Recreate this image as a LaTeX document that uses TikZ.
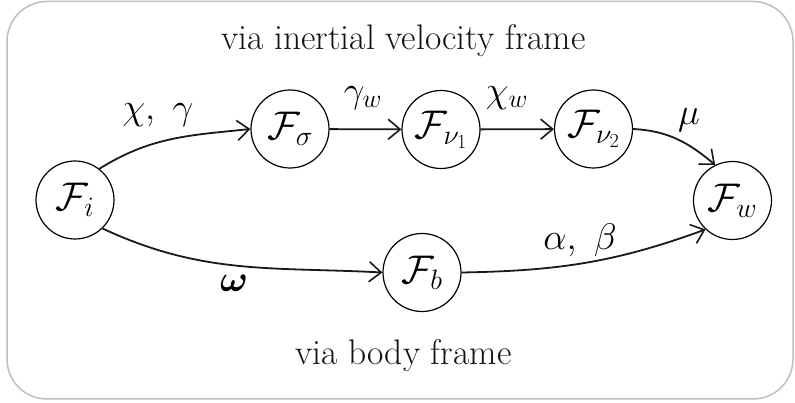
\RequirePackage{fix-cm}
\documentclass[tikz,border=0pt]{standalone}
\usepackage{amsmath}
\usetikzlibrary{arrows.meta}
\begin{document}
\begin{tikzpicture}[x=1pt,y=1pt,
  frame/.style={circle,draw=black,line width=1.2pt,minimum size=78pt,inner sep=0pt,font=\fontsize{40}{46}\selectfont},
  conn/.style={line width=1.8pt,draw=black!90,-{Straight Barb[length=12pt,width=20pt,line width=1.6pt]}},
  lbl/.style={font=\fontsize{37}{42}\selectfont,inner sep=0pt},
  captext/.style={font=\fontsize{35.5}{40}\selectfont,inner sep=0pt,text=black!92}]
\useasboundingbox (0,0) rectangle (795,403);
\draw[draw=black!25,line width=1.5pt,rounded corners=40pt] (7,4) rectangle (793,401.5);
\node[frame] (Fi) at (75,203) {$\mathcal{F}_{i}$};
\node[frame] (Fs) at (290,274) {$\mathcal{F}_{\sigma}$};
\node[frame] (Fn1) at (441,273.5) {$\mathcal{F}_{\nu_1}$};
\node[frame] (Fn2) at (593.5,274) {$\mathcal{F}_{\nu_2}$};
\node[frame] (Fw) at (732.5,202.5) {$\mathcal{F}_{w}$};
\node[frame] (Fb) at (422,130.5) {$\mathcal{F}_{b}$};
\draw[conn] (Fi.52) to[out=32,in=186] (Fs.west);
\draw[conn] (Fs) -- (Fn1);
\draw[conn] (Fn1) -- (Fn2);
\draw[conn] (Fn2.east) to[out=-3,in=140] (Fw.116);
\draw[conn] (Fi.-46) to[out=-25,in=177] (Fb.west);
\draw[conn] (Fb.east) to[out=1,in=200] (Fw.227);
\node[lbl] (l1) at (158,288) {$\chi,\ \gamma$};
\node[lbl] (l2) at (363,305) {$\gamma_{w}$};
\node[lbl] (l3) at (507,305) {$\chi_{w}$};
\node[lbl] (l4) at (689,283) {$\mu$};
\node[lbl] (l5) at (580,163) {$\alpha,\ \beta$};
\node[lbl] (l6) at (234,120) {$\boldsymbol{\omega}$};
\node[captext] (t1) at (403.5,362) {via inertial velocity frame};
\node[captext] (t2) at (403.5,47) {via body frame};
\end{tikzpicture}
\end{document}
